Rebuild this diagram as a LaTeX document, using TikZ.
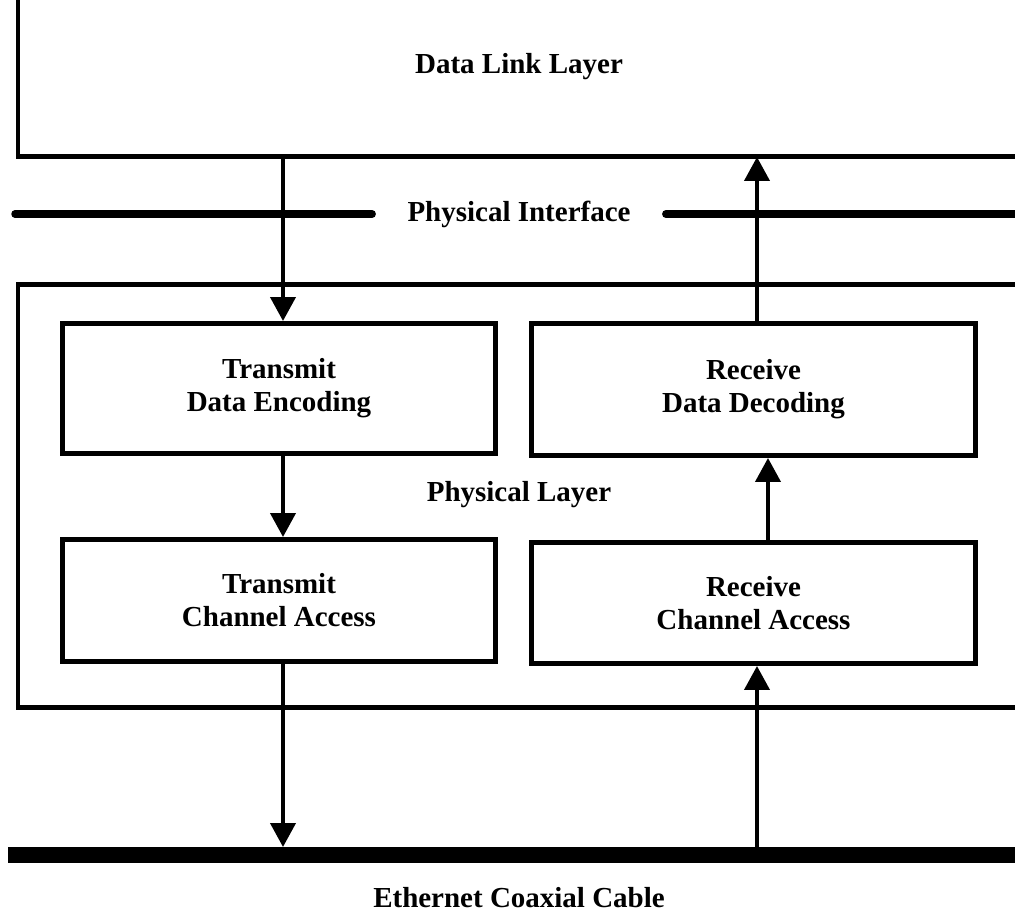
\documentclass[tikz,border=0pt]{standalone}
\usepackage{fontspec}
\setmainfont{Liberation Serif}
\usetikzlibrary{arrows.meta}

\begin{document}
\begin{tikzpicture}[x=0.02cm,y=-0.02cm,>={Triangle[length=0.48cm,width=0.5cm]},
	layer/.style={line width=0.1cm},
	block/.style={draw,line width=0.1cm,align=center,inner sep=0pt},
	flow/.style={->,line width=0.08cm}]
	\tikzstyle{every node}=[font=\bfseries\fontsize{16.5}{18.8}\selectfont]
	\useasboundingbox (0,0) rectangle (1015,912);
	% layers
	\draw[layer] (18,0) -- (18,157) -- (1015,157);
	\coordinate (dlb) at (18,157);
	\node (dll) at (519,67) {Data Link Layer};
	\node[inner xsep=0.7cm] (pi) at (519,214) {Physical Interface};
	\draw[line width=0.15cm,line cap=round] (15,214) -- (pi.west);
	\draw[line width=0.15cm,line cap=round] (pi.east) -- (1015,214);
	\draw[layer] (1015,285) -- (18,285) -- (18,707) -- (1015,707);
	\node (pl) at (519,495) {Physical Layer};
	% blocks
	\draw
		(279,388.5) node[block,minimum width=8.66cm,minimum height=2.6cm] (tde) {Transmit\\Data Encoding}
		(753.5,389.5) node[block,minimum width=8.88cm,minimum height=2.64cm] (rdd) {Receive\\Data Decoding}
		(279,600.5) node[block,minimum width=8.66cm,minimum height=2.44cm] (tca) {Transmit\\Channel Access}
		(753.5,603) node[block,minimum width=8.88cm,minimum height=2.42cm] (rca) {Receive\\Channel Access};
	% cable
	\draw[line width=0.32cm] (8,855) -- (1015,855);
	\coordinate (cab) at (8,847);
	\node (eth) at (519,898) {Ethernet Coaxial Cable};
	% arrows
	\draw[flow] ([xshift=0.08cm]tde.north |- dlb) -- ([xshift=0.08cm]tde.north);
	\draw[flow] ([xshift=0.07cm]rdd.north) -- ([xshift=0.07cm]rdd.north |- dlb);
	\draw[flow] ([xshift=0.08cm]tde.south) -- ([xshift=0.08cm]tca.north);
	\draw[flow] ([xshift=0.29cm]rca.north) -- ([xshift=0.29cm]rdd.south);
	\draw[flow] ([xshift=0.08cm]tca.south) -- ([xshift=0.08cm]tca.south |- cab);
	\draw[flow] ([xshift=0.07cm]rca.south |- cab) -- ([xshift=0.07cm]rca.south);
\end{tikzpicture}
\end{document}
